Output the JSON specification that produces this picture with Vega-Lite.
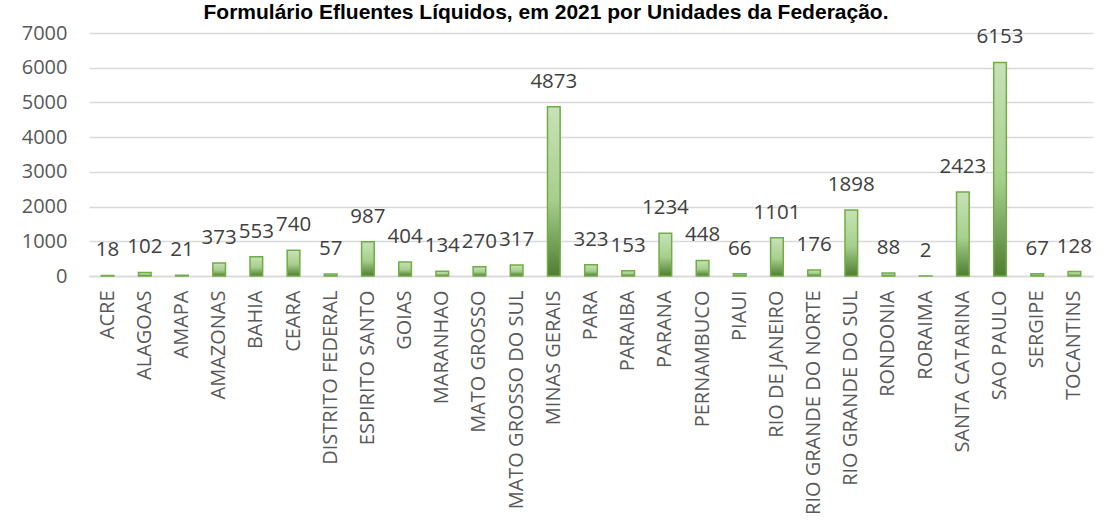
{
  "$schema": "https://vega.github.io/schema/vega-lite/v6.json",
  "width": 1004,
  "height": 243,
  "padding": {"left": 21, "top": 2, "right": 9, "bottom": 0},
  "background": "white",
  "title": {
    "text": "Formulário Efluentes Líquidos, em 2021 por Unidades da Federação.",
    "font": "Liberation Sans",
    "fontSize": 21,
    "fontWeight": "bold",
    "color": "#000000",
    "anchor": "middle",
    "dx": -45,
    "offset": 0
  },
  "data": {
    "values": [
      {"uf": "ACRE", "n": 18},
      {"uf": "ALAGOAS", "n": 102},
      {"uf": "AMAPA", "n": 21},
      {"uf": "AMAZONAS", "n": 373},
      {"uf": "BAHIA", "n": 553},
      {"uf": "CEARA", "n": 740},
      {"uf": "DISTRITO FEDERAL", "n": 57},
      {"uf": "ESPIRITO SANTO", "n": 987},
      {"uf": "GOIAS", "n": 404},
      {"uf": "MARANHAO", "n": 134},
      {"uf": "MATO GROSSO", "n": 270},
      {"uf": "MATO GROSSO DO SUL", "n": 317},
      {"uf": "MINAS GERAIS", "n": 4873},
      {"uf": "PARA", "n": 323},
      {"uf": "PARAIBA", "n": 153},
      {"uf": "PARANA", "n": 1234},
      {"uf": "PERNAMBUCO", "n": 448},
      {"uf": "PIAUI", "n": 66},
      {"uf": "RIO DE JANEIRO", "n": 1101},
      {"uf": "RIO GRANDE DO NORTE", "n": 176},
      {"uf": "RIO GRANDE DO SUL", "n": 1898},
      {"uf": "RONDONIA", "n": 88},
      {"uf": "RORAIMA", "n": 2},
      {"uf": "SANTA CATARINA", "n": 2423},
      {"uf": "SAO PAULO", "n": 6153},
      {"uf": "SERGIPE", "n": 67},
      {"uf": "TOCANTINS", "n": 128}
    ]
  },
  "encoding": {
    "x": {
      "field": "uf",
      "type": "nominal",
      "sort": null,
      "scale": {"paddingInner": 0.66, "paddingOuter": 0.33},
      "axis": {
        "title": null,
        "labelAngle": -90,
        "labelFont": "Open Sans",
        "labelFontSize": 20,
        "labelColor": "#595959",
        "labelPadding": 14,
        "ticks": false,
        "domainColor": "#d9d9d9",
        "domainWidth": 1.5,
        "labelLimit": 400
      }
    },
    "y": {
      "field": "n",
      "type": "quantitative",
      "scale": {"domain": [0, 7000]},
      "axis": {
        "title": null,
        "format": "d",
        "values": [0, 1000, 2000, 3000, 4000, 5000, 6000, 7000],
        "labelFont": "Open Sans",
        "labelFontSize": 20,
        "labelColor": "#595959",
        "labelPadding": 22,
        "ticks": false,
        "domain": false,
        "gridColor": "#d9d9d9",
        "gridWidth": 1.5
      }
    }
  },
  "layer": [
    {
      "mark": {
        "type": "bar",
        "stroke": "#70ad47",
        "strokeWidth": 1.5,
        "color": {
          "gradient": "linear",
          "x1": 0, "y1": 0, "x2": 0, "y2": 1,
          "stops": [
            {"offset": 0, "color": "#c8e2b7"},
            {"offset": 0.55, "color": "#a6cf8c"},
            {"offset": 1, "color": "#4f7d31"}
          ]
        }
      }
    },
    {
      "mark": {
        "type": "text",
        "baseline": "alphabetic",
        "dy": -19,
        "font": "Open Sans",
        "fontSize": 20.5,
        "color": "#404040"
      },
      "encoding": {"text": {"field": "n", "type": "quantitative"}}
    }
  ],
  "config": {"view": {"stroke": null}}
}
